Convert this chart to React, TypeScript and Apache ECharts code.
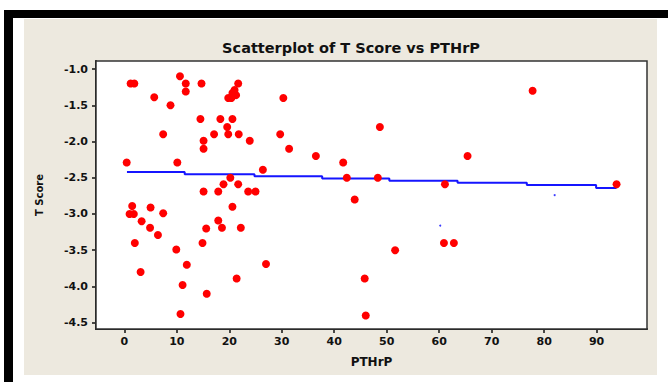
import React, { useEffect, useRef } from "react";
import * as echarts from "echarts";

const titleText = "Scatterplot of T Score vs PTHrP";
const xAxisName = "PTHrP";
const yAxisName = "T Score";

const xTicks = [0, 10, 20, 30, 40, 50, 60, 70, 80, 90];
const yTicks = [-4.5, -4.0, -3.5, -3.0, -2.5, -2.0, -1.5, -1.0];

// PTHrP values (x) and T Score values (y) of the red points
const pthrp = [
  1.2, 1.9, 10.6, 11.7, 11.7, 14.7, 5.7, 8.8, 14.5, 18.3,
  20.6, 7.4, 17.1, 19.8, 21.8, 19.6, 15.1, 15.1, 0.45, 10.1,
  15.1, 17.9, 21.7, 19.8, 20.4, 20.6, 21.0, 21.3, 30.3, 23.9,
  29.7, 31.4, 36.5, 26.4, 20.2, 18.9, 21.7, 23.6, 25.0, 1.5,
  1.0, 1.8, 5.0, 7.4, 3.3, 4.9, 6.4, 2.0, 9.9, 11.9,
  3.1, 11.1, 15.7, 10.7, 15.6, 14.9, 17.9, 18.6, 20.6, 22.2,
  27.0, 21.4, 48.7, 41.7, 42.4, 48.3, 43.9, 65.4, 61.1, 60.9,
  62.8, 51.6, 93.8, 77.8, 45.8, 46.0,
];
const tScore = [
  -1.2, -1.2, -1.1, -1.2, -1.31, -1.2, -1.39, -1.5, -1.69, -1.69,
  -1.69, -1.9, -1.9, -1.9, -1.9, -1.8, -1.99, -2.1, -2.29, -2.29,
  -2.69, -2.69, -1.2, -1.4, -1.4, -1.33, -1.29, -1.36, -1.4, -1.99,
  -1.9, -2.1, -2.2, -2.39, -2.5, -2.59, -2.59, -2.69, -2.69, -2.89,
  -3.0, -3.0, -2.91, -2.99, -3.1, -3.19, -3.29, -3.4, -3.49, -3.7,
  -3.8, -3.98, -4.1, -4.38, -3.2, -3.4, -3.09, -3.19, -2.9, -3.19,
  -3.69, -3.89, -1.8, -2.29, -2.5, -2.5, -2.8, -2.2, -2.59, -3.4,
  -3.4, -3.5, -2.59, -1.3, -3.89, -4.4,
];

// blue fitted line as drawn (stepped)
const fitX = [0.5, 11.5, 24.8, 37.7, 50.5, 63.5, 76.7, 89.9, 93.8];
const fitY = [-2.42, -2.45, -2.48, -2.51, -2.54, -2.57, -2.6, -2.64, -2.64];

// tiny stray blue dots
const strayX = [82.0, 60.2];
const strayY = [-2.74, -3.16];

const FONT = "DejaVu Sans";

export default function App() {
  const ref = useRef<HTMLDivElement>(null);

  useEffect(() => {
    document.body.style.margin = "0";
    if (!ref.current) return;
    const chart = echarts.init(ref.current, undefined, { renderer: "svg" });

    const points = pthrp.map((x, i) => [x, tScore[i]]);
    const fit = fitX.map((x, i) => [x, fitY[i]]);
    const stray = strayX.map((x, i) => [x, strayY[i]]);

    chart.setOption({
      animation: false,
      backgroundColor: "#ffffff",
      title: {
        text: titleText,
        left: 346,
        top: 35,
        textAlign: "center",
        textStyle: { fontFamily: FONT, fontSize: 14.5, fontWeight: "bold", color: "#111" },
      },
      graphic: [
        { type: "rect", z: -10, silent: true, shape: { x: 4, y: 10, width: 664, height: 8 }, style: { fill: "#000" } },
        { type: "rect", z: -10, silent: true, shape: { x: 4, y: 10, width: 9, height: 372 }, style: { fill: "#000" } },
        { type: "rect", z: -10, silent: true, shape: { x: 24, y: 19, width: 633, height: 356 }, style: { fill: "#EDE9DF" } },
      ],
      grid: {
        left: 96,
        top: 61,
        width: 551,
        height: 268,
        show: true,
        backgroundColor: "#ffffff",
        borderColor: "#333",
        borderWidth: 1.5,
        z: 1,
      },
      xAxis: {
        type: "value",
        min: -5.4,
        max: 99.6,
        name: xAxisName,
        nameLocation: "middle",
        nameGap: 27,
        nameTextStyle: { fontFamily: FONT, fontSize: 12, fontWeight: "bold", color: "#111" },
        splitLine: { show: false },
        axisLine: { onZero: false, lineStyle: { color: "#111", width: 2 } },
        axisTick: { customValues: xTicks, length: 4, lineStyle: { color: "#111", width: 1.5 } },
        axisLabel: {
          customValues: xTicks,
          margin: 7,
          fontFamily: FONT,
          fontSize: 11,
          fontWeight: "bold",
          color: "#111",
          formatter: (v: number) => String(v),
        },
      },
      yAxis: {
        type: "value",
        min: -4.587,
        max: -0.889,
        name: yAxisName,
        nameLocation: "middle",
        nameGap: 52,
        nameTextStyle: { fontFamily: FONT, fontSize: 10, fontWeight: "bold", color: "#111" },
        splitLine: { show: false },
        axisLine: { onZero: false, lineStyle: { color: "#111", width: 2 } },
        axisTick: { customValues: yTicks, length: 4, lineStyle: { color: "#111", width: 1.5 } },
        axisLabel: {
          customValues: yTicks,
          margin: 8,
          fontFamily: FONT,
          fontSize: 11,
          fontWeight: "bold",
          color: "#111",
          formatter: (v: number) => v.toFixed(1),
        },
      },
      series: [
        {
          type: "line",
          data: fit,
          step: "end",
          symbol: "none",
          lineStyle: { color: "#1515ff", width: 2 },
          z: 2,
        },
        {
          type: "scatter",
          data: stray,
          symbol: "circle",
          symbolSize: 2,
          itemStyle: { color: "#3a3aff", opacity: 1 },
          z: 2,
        },
        {
          type: "scatter",
          data: points,
          symbol: "circle",
          symbolSize: 8,
          itemStyle: { color: "#ff0000", opacity: 1 },
          z: 3,
        },
      ],
    });

    return () => chart.dispose();
  }, []);

  return <div ref={ref} style={{ width: 668, height: 382 }} />;
}
